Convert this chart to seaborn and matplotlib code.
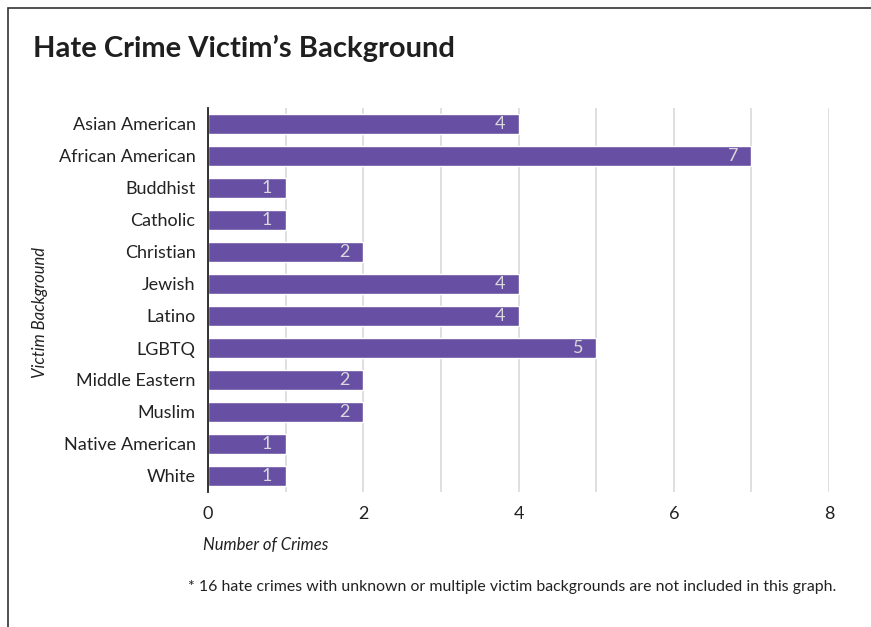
import matplotlib
matplotlib.use("Agg")
import matplotlib.pyplot as plt
import seaborn as sns
import pandas as pd
from matplotlib.patches import Rectangle

categories = ["Asian American", "African American", "Buddhist", "Catholic", "Christian",
              "Jewish", "Latino", "LGBTQ", "Middle Eastern", "Muslim", "Native American", "White"]
counts = [4, 7, 1, 1, 2, 4, 4, 5, 2, 2, 1, 1]
xticks = [0, 2, 4, 6, 8]

sns.set_theme(style="white")
plt.rcParams['font.family'] = ['Lato', 'DejaVu Sans']

df = pd.DataFrame({"Victim Background": categories, "Number of Crimes": counts})

fig = plt.figure(figsize=(8.71, 6.27), dpi=100)
ax = fig.add_axes([208/871, 1-492/627, (829-208)/871, (492-108)/627])

sns.barplot(data=df, y="Victim Background", x="Number of Crimes", order=categories,
            color="#6750A4", saturation=1, width=0.62, ax=ax, zorder=3)

ax.set_xlim(0, 8)
for v in range(0, 9):
    ax.axvline(v, color="#D9D9D9", lw=1.2, zorder=1)
ax.set_xticks(xticks)
ax.set_xticklabels([str(t) for t in xticks], fontsize=13, color="#222222")
ax.tick_params(axis="x", length=0, pad=10)
ax.tick_params(axis="y", length=0, pad=9, labelsize=13, labelcolor="#222222")
for s in ["top", "right", "bottom"]:
    ax.spines[s].set_visible(False)
ax.spines["left"].set_color("#222222")
ax.spines["left"].set_linewidth(1.3)
ax.spines["left"].set_zorder(4)
ax.set_xlabel("")
ax.set_ylabel("")

for cont in ax.containers:
    ax.bar_label(cont, labels=[str(c) for c in counts], padding=-17, color="#D9D9D9",
                 fontsize=13, zorder=5)

fig.text(33/871, 1-48/627, "Hate Crime Victim\u2019s Background", fontsize=21,
         fontweight="bold", color="#1F1F1F", va="center", ha="left")
fig.text(203/871, 1-545/627, "Number of Crimes", fontsize=12, style="italic",
         color="#222222", va="center", ha="left")
fig.text(40/871, 1-313/627, "Victim Background", fontsize=12, style="italic",
         color="#222222", va="center", ha="center", rotation=90)
fig.text(188/871, 1-587/627,
         "* 16 hate crimes with unknown or multiple victim backgrounds are not included in this graph.",
         fontsize=11.4, color="#222222", va="center", ha="left")

fig.patches.append(Rectangle((8/871, -0.1), 1.2, 1 - 8/627 + 0.1, transform=fig.transFigure,
                             fill=False, edgecolor="#333333", lw=1.2))

fig.savefig("out.png", dpi=100)
